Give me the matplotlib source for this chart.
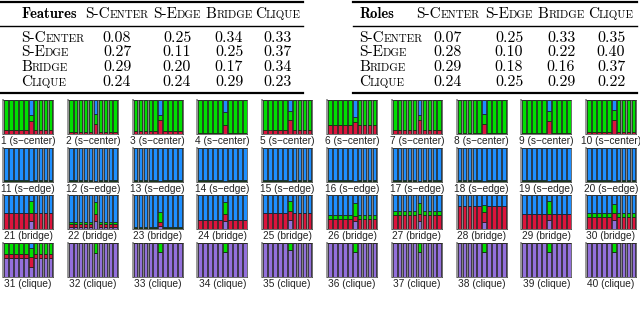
import matplotlib
matplotlib.use("Agg")
import matplotlib.pyplot as plt

W, H = 640, 313

# ---- tables ----
col_names = ["S-Center", "S-Edge", "Bridge", "Clique"]
feature_vals = [[0.08, 0.25, 0.34, 0.33],
                [0.27, 0.11, 0.25, 0.37],
                [0.29, 0.20, 0.17, 0.34],
                [0.24, 0.24, 0.29, 0.23]]
role_vals = [[0.07, 0.25, 0.33, 0.35],
             [0.28, 0.10, 0.22, 0.40],
             [0.29, 0.18, 0.16, 0.37],
             [0.24, 0.25, 0.29, 0.22]]

# ---- mini charts: 40 nodes, 10 bars each ----
node_roles = ["s-center"] * 10 + ["s-edge"] * 10 + ["bridge"] * 10 + ["clique"] * 10
self_bar = 5
# composition of the nine neighbour bars (bottom to top: clique, bridge, s-center, s-edge)
other_clique = [0] * 10 + [0] * 10 + \
    [0, .05, 0, 0, 0, 0, 0, 0, 0, 0] + [.57, 1, 1, 1, 1, 1, 1, 1, 1, 1]
other_bridge = [.13, .06, .10, .04, .12, .27, .12, .03, .02, .06] + [.02] * 10 + \
    [.48, .10, .03, .27, .48, .29, .42, .69, .43, .36] + [.10, 0, 0, 0, 0, 0, 0, 0, 0, 0]
other_center = [.87, .94, .90, .96, .88, .73, .88, .97, .98, .94] + [.05] * 10 + \
    [0, .07, .04, 0, 0, .12, .10, 0, 0, .10] + [.33, 0, 0, 0, 0, 0, 0, 0, 0, 0]
other_edge = [0] * 10 + [.93] * 10 + \
    [.52, .78, .93, .73, .52, .59, .48, .31, .57, .54] + [0] * 10
# composition of the node's own bar
self_clique = [0] * 10 + [0] * 10 + \
    [.24, .24, .10, .25, .26, .24, .24, .20, .27, .26] + \
    [.30, .72, .75, .73, .79, .73, .73, .75, .75, .73]
self_bridge = [.37, .30, .40, .27, .42, .35, .40, .30, .37, .40] + [0] * 10 + \
    [.24, .19, .10, .20, .26, .14, .19, .30, .16, .21] + [.30, 0, 0, 0, 0, 0, 0, 0, 0, 0]
self_center = [.19, .30, .15, .38, .26, .15, .15, .30, .30, .30] + [.02] * 10 + \
    [.33, .35, .30, .35, .29, .38, .33, .20, .38, .27] + \
    [.25, .28, .25, .27, .21, .27, .27, .25, .25, .27]
self_edge = [.44, .40, .45, .35, .32, .50, .45, .40, .33, .30] + [.98] * 10 + \
    [.19, .22, .50, .20, .19, .24, .24, .30, .19, .26] + [.15, 0, 0, 0, 0, 0, 0, 0, 0, 0]

colors = ["#9370db", "#dc143c", "#00e000", "#1e8fff"]


def px(x, y):
    return x / W, 1 - y / H


def smallcaps(fig, x, y, word, size, ha="left"):
    """Draw word in small caps, baseline at pixel y."""
    r = fig.canvas.get_renderer()
    pieces = []
    for ch in word:
        sz = size * 0.72 if ch.islower() else size
        if pieces and pieces[-1][1] == sz:
            pieces[-1][0] += ch.upper()
        else:
            pieces.append([ch.upper(), sz])
    widths = []
    for t, sz in pieces:
        tmp = fig.text(0, 0, t, fontsize=sz, family="cmr10")
        widths.append(tmp.get_window_extent(r).width)
        tmp.remove()
    x0 = x - sum(widths) / 2 if ha == "center" else x
    for (t, sz), w in zip(pieces, widths):
        fig.text(*px(x0, y), t, fontsize=sz, family="cmr10", va="baseline")
        x0 += w


def draw_table(fig, x0, x1, label_x, col_x, title, vals):
    fig.add_artist(plt.Line2D([x0 / W, x1 / W], [1 - 1.5 / H] * 2, color="k", lw=1.6))
    fig.add_artist(plt.Line2D([x0 / W, x1 / W], [1 - 26 / H] * 2, color="k", lw=1.0))
    fig.add_artist(plt.Line2D([x0 / W, x1 / W], [1 - 93 / H] * 2, color="k", lw=1.6))
    fig.text(*px(label_x, 18), title, fontsize=10.5, family="cmb10", va="baseline")
    for cx, name in zip(col_x, col_names):
        smallcaps(fig, cx, 18, name, 11, ha="center")
    for i, name in enumerate(col_names):
        yb = 41.5 + 14.8 * i
        smallcaps(fig, label_x, yb, name, 11)
        for cx, v in zip(col_x, vals[i]):
            fig.text(*px(cx, yb), f"{v:.2f}", fontsize=11.5, family="cmr10",
                     ha="center", va="baseline")


fig = plt.figure(figsize=(W / 100, H / 100), dpi=100)
draw_table(fig, 0, 303, 21, [117, 177, 229, 278], "Features", feature_vals)
draw_table(fig, 353, 637, 359, [448, 509, 561, 611], "Roles", role_vals)

row_tops = [100, 148, 195, 243]
for k in range(40):
    row, col = divmod(k, 10)
    left = (3 if col < 5 else 327) + 64.75 * (col % 5)
    top = row_tops[row]
    ax = fig.add_axes([left / W, 1 - (top + 34) / H, 50 / W, 34 / H])
    ax.set_facecolor("#858585")
    xs = list(range(10))
    layers = []
    for o, s in [(other_clique, self_clique), (other_bridge, self_bridge),
                 (other_center, self_center), (other_edge, self_edge)]:
        layers.append([s[k] if i == self_bar else o[k] for i in xs])
    bottom = [0] * 10
    for vals, c in zip(layers, colors):
        ax.bar(xs, vals, bottom=bottom, width=0.72, color=c,
               edgecolor="#111111", linewidth=0.45)
        bottom = [b + v for b, v in zip(bottom, vals)]
    ax.set_xlim(-0.6, 9.5)
    ax.set_ylim(0, 1)
    ax.set_xticks([])
    ax.set_yticks([])
    for sp in ax.spines.values():
        sp.set_color("#333333")
        sp.set_linewidth(0.5)
    ax.spines["left"].set_color("#999999")
    ax.spines["left"].set_linewidth(1.4)
    label = f"{k + 1} ({node_roles[k]})".replace("-", "\u2212")
    fig.text(*px(left + 25, top + 41), label, fontsize=7.3,
             family="Liberation Sans", ha="center", va="center", color="#222222")

fig.savefig("out.png", dpi=100)
